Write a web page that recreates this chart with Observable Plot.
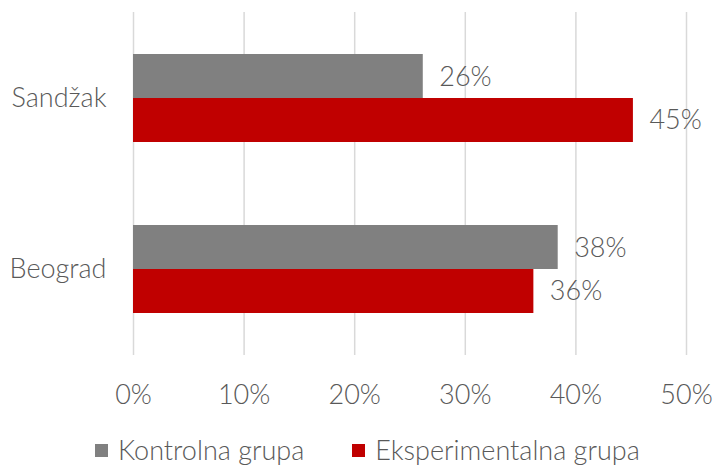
<!DOCTYPE html>
<html>
<head>
<meta charset="utf-8">
<script src="https://cdn.jsdelivr.net/npm/d3@7"></script>
<script src="https://cdn.jsdelivr.net/npm/@observablehq/plot@0.6"></script>
<style>
  html, body { margin: 0; padding: 0; background: #fff; }
  body { width: 716px; height: 467px; overflow: hidden; font-family: Lato, "Open Sans", sans-serif; font-weight: 300; }
  #legend { display: flex; align-items: center; font-size: 27px; line-height: 32px; color: #595959; margin-left: 95px; margin-top: 14px; }
  .item { display: flex; align-items: center; margin-right: 48px; white-space: nowrap; }
  .sw { width: 13px; height: 13px; margin-right: 10px; flex: none; }
</style>
</head>
<body>
<div id="chart"></div>
<div id="legend"></div>
<script>
const cities = ["Sandžak", "Beograd"];
const series = ["Kontrolna grupa", "Eksperimentalna grupa"];
const kontrolna = [26.2, 38.4];
const eksperimentalna = [45.2, 36.2];
const xTicks = [0, 10, 20, 30, 40, 50];
const colors = ["#808080", "#C00000"];

const data = [];
cities.forEach((c, i) => {
  data.push({city: c, group: series[0], value: kontrolna[i]});
  data.push({city: c, group: series[1], value: eksperimentalna[i]});
});
const k = data.filter(d => d.group === series[0]);
const e = data.filter(d => d.group === series[1]);
const fmt = v => Math.round(v) + "%";

const chart = Plot.plot({
  width: 716,
  height: 420,
  marginTop: 12,
  marginBottom: 65,
  marginLeft: 133,
  marginRight: 30,
  style: {fontFamily: "Lato, 'Open Sans', sans-serif", fontWeight: 300, fontSize: "27px", color: "#595959", background: "#fff", overflow: "visible"},
  x: {domain: [0, 50], axis: null},
  y: {domain: cities, paddingInner: 0.487, paddingOuter: 0.2435, axis: null},
  marks: [
    Plot.ruleX(xTicks, {x: d => d, stroke: "#d9d9d9", strokeWidth: 1.5}),
    Plot.axisX({ticks: xTicks, tickFormat: d => d + "%", tickSize: 0, tickPadding: 29, fontSize: 27, fill: "#595959", label: null}),
    Plot.axisY({tickSize: 0, tickPadding: 27, fontSize: 27, fill: "#595959", label: null}),
    Plot.barX(k, {x: "value", y: "city", fill: colors[0], insetBottom: 44}),
    Plot.barX(e, {x: "value", y: "city", fill: colors[1], insetTop: 44}),
    Plot.text(k, {x: "value", y: "city", text: d => fmt(d.value), dy: -21, dx: 16, textAnchor: "start", fontSize: 27, fill: "#595959"}),
    Plot.text(e, {x: "value", y: "city", text: d => fmt(d.value), dy: 22, dx: 16, textAnchor: "start", fontSize: 27, fill: "#595959"})
  ]
});
document.getElementById("chart").appendChild(chart);

const legend = document.getElementById("legend");
series.forEach((s, i) => {
  const it = document.createElement("div");
  it.className = "item";
  it.innerHTML = `<span class="sw" style="background:${colors[i]}"></span><span>${s}</span>`;
  legend.appendChild(it);
});
</script>
</body>
</html>
